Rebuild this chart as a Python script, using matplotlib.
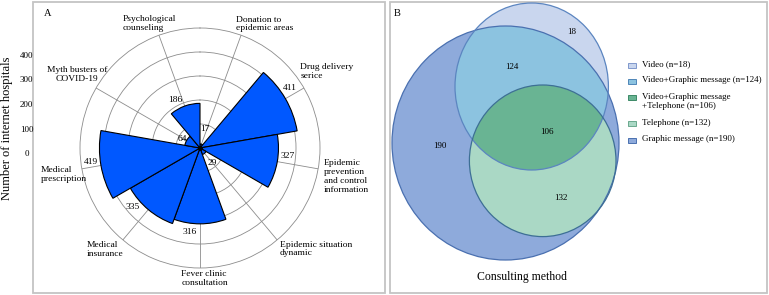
import numpy as np
import matplotlib

matplotlib.use("Agg")
import matplotlib.pyplot as plt
from matplotlib.patches import Ellipse, Rectangle

plt.rcParams["font.family"] = ["Liberation Serif", "DejaVu Serif"]

# ── Panel A: services offered by internet hospitals ──────────────────────────
services = [
    "Donation to\nepidemic areas",
    "Drug delivery\nserice",
    "Epidemic\nprevention\nand control\ninformation",
    "Epidemic situation\ndynamic",
    "Fever clinic\nconsultation",
    "Medical\ninsurance",
    "Medical\nprescription",
    "Myth busters of\nCOVID-19",
    "Psychological\ncounseling",
]
hospitals = [17, 411, 327, 29, 316, 335, 419, 64, 186]
r_ticks = [0, 100, 200, 300, 400]

# ── Panel B: consulting methods ──────────────────────────────────────────────
regions = [
    "Video",
    "Video+Graphic message",
    "Video+Graphic message\n+Telephone",
    "Telephone",
    "Graphic message",
]
region_n = [18, 124, 106, 132, 190]
region_colors = ["#c9d6ee", "#8cc3e0", "#69b493", "#aad8c5", "#8eaadb"]

# ── layout (pixels of a 769x295 canvas) ──────────────────────────────────────
W, H = 769, 295
CX, CY, R_PX, R_MAX = 200, 148, 120, 500
PX = R_PX / R_MAX
lab_pos = [(27.7, 140), (58.8, 148.5), (101, 149), (131, 154), (178, 131),
           (223, 139), (259, 139), (301, 143), (338, 134)]
val_shift = [-4.5, -4, -5, 1, 7, 8.6, 2.6, -3.4, -7.5]
venn_pos = [(572, 32), (512, 67), (547, 132), (561, 198), (440, 146)]
# ellipses: centre x, centre y, rx, ry  (graphic, video, telephone)
G = (505.5, 143, 113.5, 117)
V = (531.7, 86.5, 76.7, 83.5)
T = (542.7, 160.8, 73.3, 75.8)

fig = plt.figure(figsize=(W / 100, H / 100), dpi=100)

# canvas axes in pixel units for frames and the Venn diagram
ax_b = fig.add_axes([0, 0, 1, 1])
ax_b.set_xlim(0, W)
ax_b.set_ylim(H, 0)
ax_b.axis("off")
for x0, x1 in [(33, 385), (390, 767)]:
    ax_b.add_patch(Rectangle((x0, 2), x1 - x0, 291, fill=False, ec="#c4c4c4", lw=1.3))

# ── Panel A ──────────────────────────────────────────────────────────────────
ax = fig.add_axes([(CX - R_PX) / W, (H - CY - R_PX) / H, 2 * R_PX / W, 2 * R_PX / H],
                  projection="polar")
ax.set_theta_zero_location("N")
ax.set_theta_direction(-1)
n = len(services)
centers = np.deg2rad(20 + 40 * np.arange(n))
ax.bar(centers, hospitals, width=np.deg2rad(40), color="#0058ff", edgecolor="black",
       linewidth=0.8, zorder=2)
ax.plot([0], [0], "o", color="black", ms=2.5, zorder=3)
ax.set_ylim(0, R_MAX)
ax.set_yticks([100, 200, 300, 400])
ax.set_yticklabels([])
ax.set_xticks(centers)
ax.set_xticklabels([])
ax.grid(True, color="#8c8c8c", lw=0.6)
ax.set_axisbelow(True)
ax.spines["polar"].set_color("#8c8c8c")
ax.spines["polar"].set_linewidth(0.6)
ax.set_facecolor("none")

for lab, (deg, rp) in zip(services, lab_pos):
    ma = "center" if lab.startswith("Myth") else "left"
    ax.text(np.deg2rad(deg), rp / PX, lab, ha="center", va="center", multialignment=ma,
            fontsize=6.8, linespacing=1.15, clip_on=False)

for th, v, s in zip(centers, hospitals, val_shift):
    rv = v + 38 if v > 100 else 82
    ax.text(th + np.deg2rad(s), rv, str(v), ha="center", va="center", fontsize=6.8)

# radial scale shown on the left, outside the frame
ax_y = fig.add_axes([33 / W, (H - 153) / H, 0.001, 98 / H])
ax_y.set_ylim(0, 400)
ax_y.set_yticks(r_ticks)
ax_y.set_yticklabels([str(t) for t in r_ticks], fontsize=6.5)
for t in ax_y.get_yticklabels():
    t.set_horizontalalignment("center")
ax_y.tick_params(axis="y", length=0, pad=4.7)
ax_y.set_xticks([])
for sp in ax_y.spines.values():
    sp.set_visible(False)
ax_y.set_facecolor("none")
fig.text(7 / W, 1 - 128 / H, "Number of internet hospitals", rotation=90,
         ha="center", va="center", fontsize=9)
fig.text(48 / W, 1 - 14 / H, "A", ha="center", va="center", fontsize=7.5)

# ── Panel B: Venn diagram ────────────────────────────────────────────────────
def ell(e, **kw):
    return Ellipse((e[0], e[1]), 2 * e[2], 2 * e[3], **kw)

vid_col, vg_col, vgt_col, tel_col, gra_col = region_colors
ax_b.add_patch(ell(G, fc=gra_col, ec="none"))
ax_b.add_patch(ell(V, fc=vid_col, ec="none"))
clip_g = ell(G, transform=ax_b.transData)
clip_v = ell(V, transform=ax_b.transData)
p = ax_b.add_patch(ell(V, fc=vg_col, ec="none"))
p.set_clip_path(clip_g)
p = ax_b.add_patch(ell(T, fc=tel_col, ec="none"))
p.set_clip_path(clip_g)
p = ax_b.add_patch(ell(T, fc=vgt_col, ec="none"))
p.set_clip_path(clip_v)
ax_b.add_patch(ell(G, fill=False, ec="#4a70b0", lw=0.9))
ax_b.add_patch(ell(V, fill=False, ec="#5b85c0", lw=0.9))
ax_b.add_patch(ell(T, fill=False, ec="#3d6f95", lw=0.9))

for (x, y), cnt in zip(venn_pos, region_n):
    ax_b.text(x, y, str(cnt), ha="center", va="center", fontsize=6.5)

edge_cols = ["#7f98cc", "#4f86b8", "#3d8a68", "#6aa88e", "#4a70b0"]
y = 65
for lab, cnt, fc, ec in zip(regions, region_n, region_colors, edge_cols):
    ax_b.add_patch(Rectangle((628, y - 2.5), 8, 5, fc=fc, ec=ec, lw=0.7))
    ax_b.text(641.5, y - 5, f"{lab} (n={cnt})", ha="left", va="top", fontsize=6.5,
              linespacing=1.2)
    y += 16.3 + 10 * lab.count("\n")

ax_b.text(522, 277, "Consulting method", ha="center", va="center", fontsize=8.5)
ax_b.text(397, 14, "B", ha="center", va="center", fontsize=7.5)

fig.savefig("out.png", dpi=100)
